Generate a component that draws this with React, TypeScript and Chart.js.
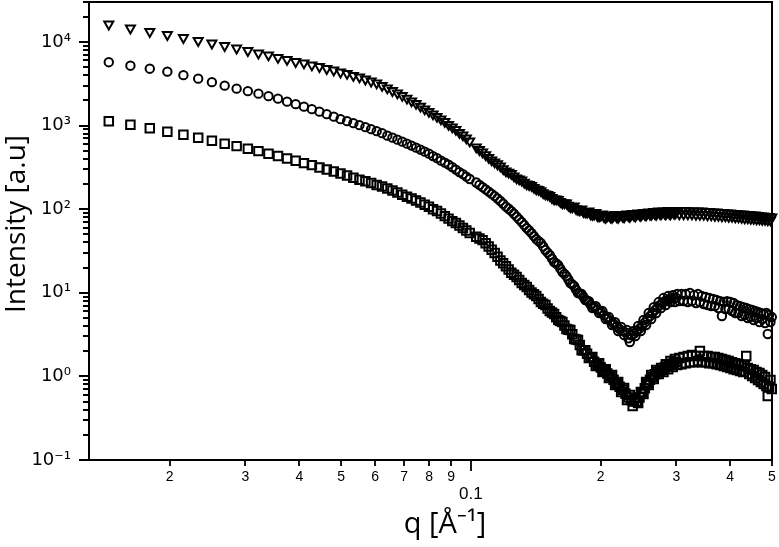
import React, { useEffect, useRef } from "react";
import { Chart, registerables } from "chart.js";

Chart.register(...registerables);

// q values [1/Å]
const q = [
  0.01445, 0.01622, 0.01799, 0.01976, 0.02153, 0.0233, 0.02507, 0.02684, 0.02861, 0.03038,
  0.03215, 0.03392, 0.03569, 0.03746, 0.03923, 0.041, 0.04277, 0.04454, 0.04631, 0.04808,
  0.04985, 0.05162, 0.05339, 0.05516, 0.05693, 0.0587, 0.06047, 0.06224, 0.06401, 0.06578,
  0.06755, 0.06932, 0.07109, 0.07286, 0.07463, 0.0764, 0.07817, 0.07994, 0.08171, 0.08348,
  0.08525, 0.08702, 0.08879, 0.09056, 0.09233, 0.0941, 0.09587, 0.09764, 0.09941,
  0.10295, 0.10649, 0.11003, 0.11357, 0.11711, 0.12065, 0.12419, 0.12773, 0.13127, 0.13481,
  0.13835, 0.14189, 0.14543, 0.14897, 0.15251, 0.15605, 0.15959, 0.16313, 0.16667, 0.17021,
  0.17375, 0.17729, 0.18083, 0.18437, 0.18791, 0.19145, 0.19499, 0.19853, 0.20207, 0.20561,
  0.20915, 0.21269, 0.21623, 0.21977, 0.22331, 0.22685, 0.23039, 0.23393, 0.23747, 0.24101,
  0.24455, 0.24809, 0.25163, 0.25517, 0.25871, 0.26225, 0.26579, 0.26933, 0.27287, 0.27641,
  0.27995, 0.28349, 0.28703, 0.29057, 0.29411, 0.29765, 0.30119, 0.30473, 0.30827, 0.31181,
  0.31535, 0.31889, 0.32243, 0.32597, 0.32951, 0.33305, 0.33659, 0.34013, 0.34367, 0.34721,
  0.35075, 0.35429, 0.35783, 0.36137, 0.36491, 0.36845, 0.37199, 0.37553, 0.37907, 0.38261,
  0.38615, 0.38969, 0.39323, 0.39677, 0.40031, 0.40385, 0.40739, 0.41093, 0.41447, 0.41801,
  0.42155, 0.42509, 0.42863, 0.43217, 0.43571, 0.43925, 0.44279, 0.44633, 0.44987, 0.45341,
  0.45695, 0.46049, 0.46403, 0.46757, 0.47111, 0.47465, 0.47819, 0.48173, 0.48527, 0.48881,
  0.49235, 0.49589, 0.49943,
];

// Series 1 (triangles)
const triangles = [
  16280, 14580, 13240, 12190, 11230, 10330, 9650, 9010, 8410, 7850,
  7330, 6940, 6480, 6130, 5800, 5570, 5270, 5050, 4780, 4590,
  4340, 4170, 3950, 3790, 3580, 3390, 3210, 3000, 2800, 2610,
  2440, 2280, 2120, 1960, 1830, 1700, 1570, 1465, 1368, 1276,
  1192, 1112, 1024, 956, 892, 822, 767, 706, 650,
  551, 480, 413, 365, 327, 285, 266, 235, 222, 199,
  191, 174, 166, 151, 145, 132, 130, 118, 118, 107,
  109, 98.7, 100, 92.1, 94.7, 86.0, 90.9, 82.5, 87.2, 79.2,
  84.8, 79.2, 86.0, 79.2, 86.0, 80.3, 87.2, 81.4, 88.4, 82.5,
  89.6, 83.7, 90.9, 84.8, 92.1, 86.0, 93.4, 86.0, 94.7, 87.2,
  94.7, 87.2, 96.0, 87.2, 96.0, 88.4, 96.0, 87.2, 96.0, 87.2,
  96.0, 87.2, 94.7, 87.2, 94.7, 86.0, 94.7, 86.0, 94.7, 86.0,
  93.4, 84.8, 93.4, 84.8, 92.1, 83.7, 92.1, 83.7, 90.9, 82.5,
  90.9, 82.5, 89.6, 81.4, 89.6, 81.4, 88.4, 80.3, 88.4, 80.3,
  87.2, 79.2, 87.2, 78.1, 86.0, 78.1, 86.0, 77.0, 84.8, 77.0,
  84.8, 76.0, 83.7, 76.0, 82.5, 75.0, 82.5, 75.0, 81.4, 74.0,
  81.4, 74.0, 80.3,
];

// Series 2 (circles)
const circles = [
  5720, 5195, 4783, 4405, 4000, 3633, 3299, 2996, 2758, 2575,
  2404, 2244, 2095, 1929, 1800, 1681, 1569, 1465, 1368, 1276,
  1192, 1128, 1067, 1010, 956, 905, 856, 810, 757, 716,
  678, 641, 607, 575, 544, 515, 487, 461, 431, 407,
  380, 360, 341, 318, 297, 277, 262, 245, 229,
  208, 183, 162, 143, 125, 107, 94.7, 81.4, 70.0, 59.3,
  51.7, 43.8, 39.3, 32.4, 28.2, 23.3, 21.4, 17.7, 15.8, 13.1,
  12.0, 9.92, 9.65, 8.18, 7.95, 6.56, 6.93, 5.72, 6.04, 4.85,
  5.12, 4.11, 4.46, 3.48, 3.89, 3.12, 3.58, 2.57, 3.48, 3.04,
  4.0, 3.48, 4.72, 4.11, 5.72, 4.85, 6.74, 5.72, 7.74, 6.56,
  8.64, 7.12, 9.13, 7.74, 9.38, 7.74, 9.65, 7.95, 9.65, 7.95,
  9.65, 7.74, 9.92, 7.95, 9.38, 7.53, 9.65, 7.74, 9.13, 7.32,
  8.88, 7.12, 8.64, 6.93, 8.41, 6.93, 8.18, 6.56, 7.95, 5.27,
  7.74, 6.38, 7.95, 6.38, 7.74, 6.04, 7.53, 5.72, 7.12, 5.72,
  6.93, 5.27, 6.74, 5.41, 6.56, 4.98, 6.38, 5.12, 6.21, 4.72,
  6.04, 4.98, 5.88, 4.46, 5.72, 4.85, 5.56, 4.34, 5.72, 3.21,
  5.41, 4.46, 5.12,
];

// Series 3 (squares)
const squares = [
  1128, 1024, 930, 845, 778, 716, 659, 607, 567, 529,
  494, 461, 431, 402, 380, 355, 336, 314, 297, 281,
  266, 252, 238, 225, 216, 205, 194, 186, 176, 167,
  158, 149, 141, 134, 127, 120, 113, 107, 100, 94.7,
  88.4, 82.5, 77.0, 71.9, 68.1, 63.6, 59.3, 55.4, 51.7,
  46.9, 42.6, 35.7, 29.8, 24.3, 20.8, 17.4, 15.4, 13.1, 11.7,
  10.05, 9.13, 7.74, 7.12, 6.04, 5.56, 4.72, 4.46, 3.68, 3.58,
  2.8, 2.72, 2.06, 2.06, 1.66, 1.7, 1.33, 1.44, 1.13, 1.22,
  0.956, 1.04, 0.788, 0.856, 0.65, 0.726, 0.522, 0.599, 0.442, 0.551,
  0.48, 0.65, 0.615, 0.856, 0.788, 1.04, 0.93, 1.19, 1.07, 1.26,
  1.13, 1.4, 1.22, 1.53, 1.29, 1.61, 1.37, 1.66, 1.4, 1.7,
  1.44, 1.75, 1.48, 1.8, 1.48, 1.75, 1.53, 2.01, 1.48, 1.75,
  1.48, 1.75, 1.44, 1.7, 1.44, 1.7, 1.4, 1.66, 1.37, 1.61,
  1.33, 1.57, 1.29, 1.53, 1.26, 1.48, 1.22, 1.44, 1.19, 1.4,
  1.16, 1.37, 1.13, 1.33, 1.75, 1.26, 1.07, 1.22, 1.01, 1.19,
  0.956, 1.13, 0.905, 1.1, 0.856, 1.04, 0.81, 0.982, 0.767, 0.582,
  0.746, 0.905, 0.706,
];

// Additional, denser measurements between q = 0.10 and 0.30
const qDense = [
  0.10472, 0.10826, 0.1118, 0.11534, 0.11888, 0.12242, 0.12596, 0.1295, 0.13304, 0.13658,
  0.14012, 0.14366, 0.1472, 0.15074, 0.15428, 0.15782, 0.16136, 0.1649, 0.16844, 0.17198,
  0.17552, 0.17906, 0.1826, 0.18614, 0.18968, 0.19322, 0.19676, 0.2003, 0.20384, 0.20738,
  0.21092, 0.21446, 0.218, 0.22154, 0.22508, 0.22862, 0.23216, 0.2357, 0.23924, 0.24278,
  0.24632, 0.24986, 0.2534, 0.25694, 0.26048, 0.26402, 0.26756, 0.2711, 0.27464, 0.27818,
  0.28172, 0.28526, 0.2888, 0.29234, 0.29588, 0.29942,
];
const trianglesDense = [
  514, 446, 386, 347, 303, 276, 248, 229, 209, 196,
  181, 171, 157, 149, 137, 132, 123, 119, 111, 106,
  101, 97.5, 93.0, 91.5, 87.5, 87.0, 83.0, 84.5, 80.8, 83.5,
  80.5, 83.0, 81.0, 84.5, 82.0, 85.5, 83.0, 86.5, 84.0, 87.5,
  85.5, 88.5, 86.0, 89.5, 87.0, 90.5, 88.0, 91.5, 88.5, 92.0,
  89.0, 92.5, 89.0, 92.5, 89.5, 92.5,
];
const circlesDense = [
  195, 172, 152, 134, 116, 101, 88, 75.5, 64.5, 55.5,
  47.5, 41.5, 35.8, 30.2, 25.6, 22.4, 19.4, 16.8, 14.4, 12.6,
  10.9, 9.8, 8.9, 8.05, 7.2, 6.75, 6.3, 5.88, 5.4, 4.98,
  4.6, 4.28, 3.95, 3.68, 3.5, 3.35, 2.85, 3.1, 3.25, 3.5,
  3.72, 4.05, 4.4, 4.85, 5.25, 5.75, 6.2, 6.7, 7.1, 7.55,
  7.9, 8.1, 8.4, 8.55, 8.55, 8.7,
];
const squaresDense = [
  44.5, 39.0, 32.6, 27.0, 22.5, 19.0, 16.4, 14.2, 12.4, 10.8,
  9.6, 8.4, 7.4, 6.5, 5.8, 5.1, 4.6, 4.05, 3.62, 3.2,
  2.76, 2.38, 2.06, 1.86, 1.68, 1.5, 1.38, 1.28, 1.17, 1.08,
  1.0, 0.91, 0.82, 0.75, 0.69, 0.62, 0.56, 0.52, 0.5, 0.5,
  0.56, 0.63, 0.72, 0.82, 0.91, 0.98, 1.06, 1.12, 1.17, 1.2,
  1.28, 1.31, 1.38, 1.42, 1.46, 1.5,
];

const xTickValues = [0.02, 0.03, 0.04, 0.05, 0.06, 0.07, 0.08, 0.09, 0.1, 0.2, 0.3, 0.4, 0.5];
const xTickLabels = ["2", "3", "4", "5", "6", "7", "8", "9", "0.1", "2", "3", "4", "5"];
const xMajorValues = [0.1];
const yTickValues = [0.1, 1, 10, 100, 1000, 10000];
const yTickLabels = ["10⁻¹", "10⁰", "10¹", "10²", "10³", "10⁴"];
const yMinorSteps = [2, 3, 4, 5, 6, 7, 8, 9];

const X_MIN = 0.013;
const X_MAX = 0.5;
const Y_MIN = 0.1;
const Y_MAX = 30000;

const TICK_FONT = "'Liberation Sans', Arial, sans-serif";
const YTICK_FONT = "'DejaVu Sans', sans-serif";
const TITLE_FONT = "'Open Sans', sans-serif";

const framePlugin = {
  id: "frameAndTicks",
  afterDraw(chart: any) {
    const { ctx, chartArea: a, scales } = chart;
    const xs = scales.x;
    const ys = scales.y;
    ctx.save();
    ctx.strokeStyle = "#000";
    ctx.lineWidth = 2;
    ctx.strokeRect(a.left, a.top, a.right - a.left, a.bottom - a.top);
    ctx.lineWidth = 1.8;
    ctx.beginPath();
    yTickValues.forEach((v) => {
      const p = Math.round(ys.getPixelForValue(v));
      ctx.moveTo(a.left - 10, p);
      ctx.lineTo(a.left, p);
      yMinorSteps.forEach((m) => {
        const val = v * m;
        if (val <= Y_MAX) {
          const pm = Math.round(ys.getPixelForValue(val));
          ctx.moveTo(a.left - 6, pm);
          ctx.lineTo(a.left, pm);
        }
      });
    });
    xTickValues.forEach((v) => {
      const p = Math.round(xs.getPixelForValue(v));
      const len = xMajorValues.includes(v) ? 11 : 6;
      ctx.moveTo(p, a.bottom);
      ctx.lineTo(p, a.bottom + len);
    });
    ctx.stroke();
    ctx.restore();
  },
};

function toPoints(values: number[], dense: number[]) {
  const main = q.map((x, i) => ({ x, y: values[i] }));
  const extra = qDense.map((x, i) => ({ x, y: dense[i] }));
  return main.concat(extra);
}

export default function App() {
  const canvasRef = useRef<HTMLCanvasElement | null>(null);

  useEffect(() => {
    if (!canvasRef.current) return;
    const marker = {
      backgroundColor: "rgba(0,0,0,0)",
      borderColor: "#000",
      pointBackgroundColor: "rgba(0,0,0,0)",
      pointBorderColor: "#000",
      pointBorderWidth: 2,
      showLine: false,
      clip: false as any,
    };
    const chart = new Chart(canvasRef.current, {
      type: "scatter",
      data: {
        datasets: [
          { ...marker, label: "triangles", data: toPoints(triangles, trianglesDense), pointStyle: "triangle", pointRotation: 180, pointRadius: 5.2 },
          { ...marker, label: "circles", data: toPoints(circles, circlesDense), pointStyle: "circle", pointRadius: 4.2 },
          { ...marker, label: "squares", data: toPoints(squares, squaresDense), pointStyle: "rect", pointRadius: 6 },
        ],
      } as any,
      options: {
        animation: false,
        responsive: false,
        devicePixelRatio: 1,
        events: [],
        layout: { padding: { top: 2, right: 7, bottom: 0, left: 0 }, autoPadding: false } as any,
        plugins: { legend: { display: false }, tooltip: { enabled: false } },
        scales: {
          x: {
            type: "logarithmic",
            min: X_MIN,
            max: X_MAX,
            afterBuildTicks: (s: any) => {
              s.ticks = xTickValues.map((v) => ({ value: v }));
            },
            afterFit: (s: any) => {
              s.height = 87;
              s.paddingLeft = 0;
              s.paddingRight = 0;
            },
            grid: { display: false, drawTicks: false },
            border: { display: false },
            ticks: {
              autoSkip: false,
              maxRotation: 0,
              minRotation: 0,
              padding: 9,
              color: "#000",
              callback: (v: any, i: number) => {
                const label = xTickLabels[i];
                return xMajorValues.includes(Number(v)) ? ["", label] : label;
              },
              font: (c: any) =>
                c.tick && xMajorValues.includes(c.tick.value)
                  ? { family: TICK_FONT, size: 17, lineHeight: 1 }
                  : { family: TICK_FONT, size: 14 },
            },
            title: {
              display: true,
              text: "\u2003q [Å⁻¹]",
              color: "#000",
              font: { family: TITLE_FONT, size: 29 },
              padding: { top: 0, bottom: 5 },
            },
          },
          y: {
            type: "logarithmic",
            min: Y_MIN,
            max: Y_MAX,
            afterBuildTicks: (s: any) => {
              s.ticks = yTickValues.map((v) => ({ value: v }));
            },
            afterFit: (s: any) => {
              s.width = 89;
              s.paddingTop = 0;
              s.paddingBottom = 0;
            },
            grid: { display: false, drawTicks: false },
            border: { display: false },
            ticks: {
              padding: 18,
              color: "#000",
              font: { family: YTICK_FONT, size: 18 },
              callback: (_v: any, i: number) => yTickLabels[i],
            },
            title: {
              display: true,
              text: "\u2002Intensity [a.u]",
              color: "#000",
              font: { family: TITLE_FONT, size: 28 },
              padding: { top: 0, bottom: 0 },
            },
          },
        },
      } as any,
      plugins: [framePlugin],
    });
    return () => chart.destroy();
  }, []);

  return (
    <div style={{ position: "absolute", left: 0, top: 0, width: 779, height: 547, background: "#fff" }}>
      <canvas ref={canvasRef} width={779} height={547} style={{ display: "block", width: 779, height: 547 }} />
    </div>
  );
}
